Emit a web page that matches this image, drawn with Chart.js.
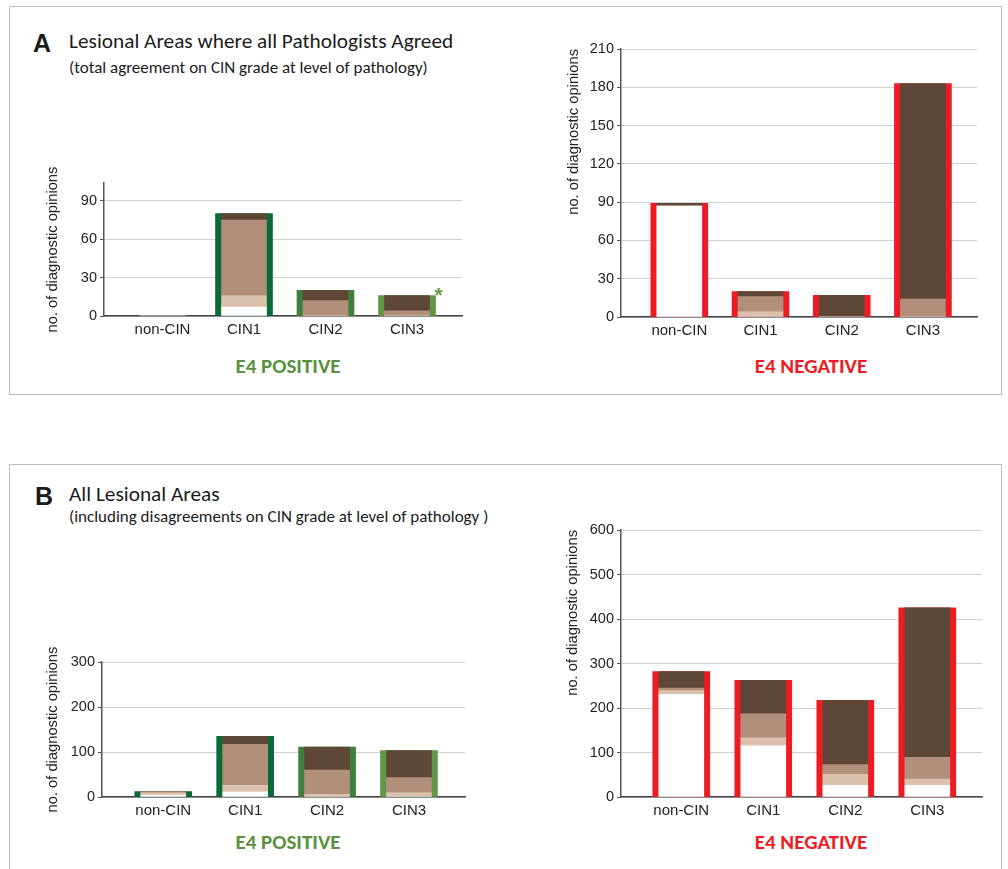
<!DOCTYPE html>
<html>
<head>
<meta charset="utf-8">
<script src="https://cdn.jsdelivr.net/npm/chart.js@4.4.1/dist/chart.umd.min.js"></script>
<style>
  html, body { margin: 0; padding: 0; background: #fff; }
  body { width: 1008px; height: 869px; position: relative; overflow: hidden; font-family: "Liberation Sans", Arial, sans-serif; }
  .box { position: absolute; box-sizing: border-box; border: 1px solid #bdbdbd; }
  .txt { position: absolute; white-space: nowrap; color: #1b1b1b; line-height: 1; }
  .letter { font: bold 25px "Liberation Sans", Arial, sans-serif; }
  .head { font-family: Carlito, Lato, sans-serif; font-size: 21.3px; }
  .sub { font-family: Carlito, Lato, sans-serif; font-size: 17px; }
  .grp { font-family: Carlito, Lato, sans-serif; font-weight: bold; font-size: 21px; transform: translateX(-50%); }
  .pos { color: #5a9141; }
  .neg { color: #ee1d25; }
  canvas { position: absolute; }
</style>
</head>
<body>
<div class="box" style="left:9px; top:6px; width:993px; height:389px;"></div>
<div class="box" style="left:9px; top:464px; width:993px; height:420px;"></div>

<div class="txt letter" style="left:33px; top:29px;">A</div>
<div class="txt head" style="left:69px; top:31px;">Lesional Areas where all Pathologists Agreed</div>
<div class="txt sub" style="left:69px; top:59px;">(total agreement on CIN grade at level of pathology)</div>
<div class="txt grp pos" style="left:288px; top:356px;">E4 POSITIVE</div>
<div class="txt grp neg" style="left:811px; top:356px;">E4 NEGATIVE</div>

<div class="txt letter" style="left:35px; top:482px;">B</div>
<div class="txt head" style="left:69px; top:484px;">All Lesional Areas</div>
<div class="txt sub" style="left:69px; top:508px;">(including disagreements on CIN grade at level of pathology )</div>
<div class="txt grp pos" style="left:288px; top:832px;">E4 POSITIVE</div>
<div class="txt grp neg" style="left:811px; top:832px;">E4 NEGATIVE</div>

<canvas id="aPos" width="426" height="187" style="left:40px; top:159px;"></canvas>
<canvas id="aNeg" width="420" height="310" style="left:561px; top:37px;"></canvas>
<canvas id="bPos" width="429" height="189" style="left:40px; top:638px;"></canvas>
<canvas id="bNeg" width="426" height="309" style="left:560px; top:518px;"></canvas>

<script>
// Diagnostic categories along the x axis
const categories = ['non-CIN', 'CIN1', 'CIN2', 'CIN3'];

// A: lesional areas where all pathologists agreed — E4 positive
const agreedPosWhite = [0, 7, 0, 0];
const agreedPosLight = [0, 9, 0, 0];
const agreedPosMid   = [0, 59, 12, 4];
const agreedPosDark  = [0, 5, 8, 12];

// A: lesional areas where all pathologists agreed — E4 negative
const agreedNegWhite = [87, 0, 0, 0];
const agreedNegLight = [0, 4, 0, 0];
const agreedNegMid   = [0, 12, 0, 14];
const agreedNegDark  = [2, 4, 17, 169];

// B: all lesional areas — E4 positive
const allPosWhite = [4, 11, 0, 0];
const allPosLight = [5, 15, 6, 10];
const allPosMid   = [3, 91, 54, 33];
const allPosDark  = [0, 18, 51, 60];

// B: all lesional areas — E4 negative
const allNegWhite = [231, 115, 26, 26];
const allNegLight = [8, 18, 25, 14];
const allNegMid   = [6, 54, 22, 49];
const allNegDark  = [37, 75, 144, 336];

// Y axis ranges and tick steps
const yMaxAgreedPos = 104, yStepAgreedPos = 30;
const yMaxAgreedNeg = 210, yStepAgreedNeg = 30;
const yMaxAllPos = 300, yStepAllPos = 100;
const yMaxAllNeg = 600, yStepAllNeg = 100;

const segmentColors = ['#ffffff', '#dbc1ab', '#b18f7a', '#5f4738'];
const greenDark = '#0b6a36', greenMid = '#407f3b', greenLight = '#5e9847';
const red = '#ed1c24';
const posFrame = [greenDark, greenDark, greenMid, greenLight];
const negFrame = [red, red, red, red];
const textColor = '#222';

Chart.defaults.font.family = '"Liberation Sans", Arial, sans-serif';

// draws a green asterisk beside one bar
const starMark = {
  id: 'starMark',
  afterDatasetsDraw(chart, args, opts) {
    if (opts.index === undefined) return;
    const bar = chart.getDatasetMeta(opts.dataset).data[opts.index];
    const ctx = chart.ctx;
    ctx.save();
    ctx.fillStyle = opts.color;
    ctx.font = 'bold 21px "Liberation Sans", Arial, sans-serif';
    ctx.textAlign = 'left';
    ctx.textBaseline = 'alphabetic';
    ctx.fillText('*', bar.x + bar.width / 2 - 1, bar.y + 6);
    ctx.restore();
  }
};

function buildChart(id, segments, frameColors, view) {
  const totals = categories.map((_, i) => segments.reduce((s, arr) => s + arr[i], 0));
  const points = arr => arr.map((v, i) => ({ x: i, y: v }));
  const datasets = segments.map((arr, k) => ({
    data: points(arr),
    backgroundColor: segmentColors[k],
    stack: 'inner',
    grouped: false,
    barThickness: 45,
    borderWidth: 0,
    order: 0
  }));
  datasets.push({
    data: points(totals),
    backgroundColor: frameColors,
    stack: 'frame',
    grouped: false,
    barThickness: 57,
    borderWidth: 0,
    order: 1
  });

  return new Chart(document.getElementById(id), {
    type: 'bar',
    data: { datasets },
    plugins: view.star ? [starMark] : [],
    options: {
      responsive: false,
      animation: false,
      events: [],
      layout: { padding: { top: view.padTop, right: 4, left: 0, bottom: 0 } },
      plugins: {
        legend: { display: false },
        tooltip: { enabled: false },
        starMark: view.star || {}
      },
      scales: {
        x: {
          type: 'linear',
          min: view.xMin,
          max: view.xMax,
          offset: false,
          grid: { display: false, drawTicks: false },
          border: { color: '#444', width: 1.5 },
          ticks: {
            stepSize: 1,
            includeBounds: false,
            autoSkip: false,
            maxRotation: 0,
            padding: 5,
            color: textColor,
            font: { size: 15 },
            callback: v => (Number.isInteger(v) && categories[v] !== undefined) ? categories[v] : ''
          },
          afterFit: s => { s.height = 30; }
        },
        y: {
          stacked: true,
          min: 0,
          max: view.yMax,
          border: { color: '#555', width: 1.5 },
          grid: { color: '#d0d0d0', lineWidth: 1, tickLength: 4, tickColor: '#555', drawTicks: true },
          ticks: {
            stepSize: view.yStep,
            includeBounds: false,
            padding: 3,
            color: textColor,
            font: { size: 14.5 }
          },
          title: {
            display: true,
            text: 'no. of diagnostic opinions',
            color: textColor,
            font: { size: 14.7 },
            align: view.titleAlign,
            padding: { top: 4, bottom: 0 }
          },
          afterFit: s => { s.width = view.yWidth; }
        }
      }
    }
  });
}

buildChart('aPos', [agreedPosWhite, agreedPosLight, agreedPosMid, agreedPosDark], posFrame, {
  xMin: -0.718, xMax: 3.675, yMax: yMaxAgreedPos, yStep: yStepAgreedPos,
  yWidth: 64, titleAlign: 'center', padTop: 24,
  star: { dataset: 4, index: 3, color: greenLight }
});
buildChart('aNeg', [agreedNegWhite, agreedNegLight, agreedNegMid, agreedNegDark], negFrame, {
  xMin: -0.718, xMax: 3.666, yMax: yMaxAgreedNeg, yStep: yStepAgreedNeg,
  yWidth: 60, titleAlign: 'end', padTop: 12
});
buildChart('bPos', [allPosWhite, allPosLight, allPosMid, allPosDark], posFrame, {
  xMin: -0.748, xMax: 3.684, yMax: yMaxAllPos, yStep: yStepAllPos,
  yWidth: 62, titleAlign: 'center', padTop: 24
});
buildChart('bNeg', [allNegWhite, allNegLight, allNegMid, allNegDark], negFrame, {
  xMin: -0.735, xMax: 3.667, yMax: yMaxAllNeg, yStep: yStepAllNeg,
  yWidth: 61, titleAlign: 'end', padTop: 12
});
</script>
</body>
</html>
